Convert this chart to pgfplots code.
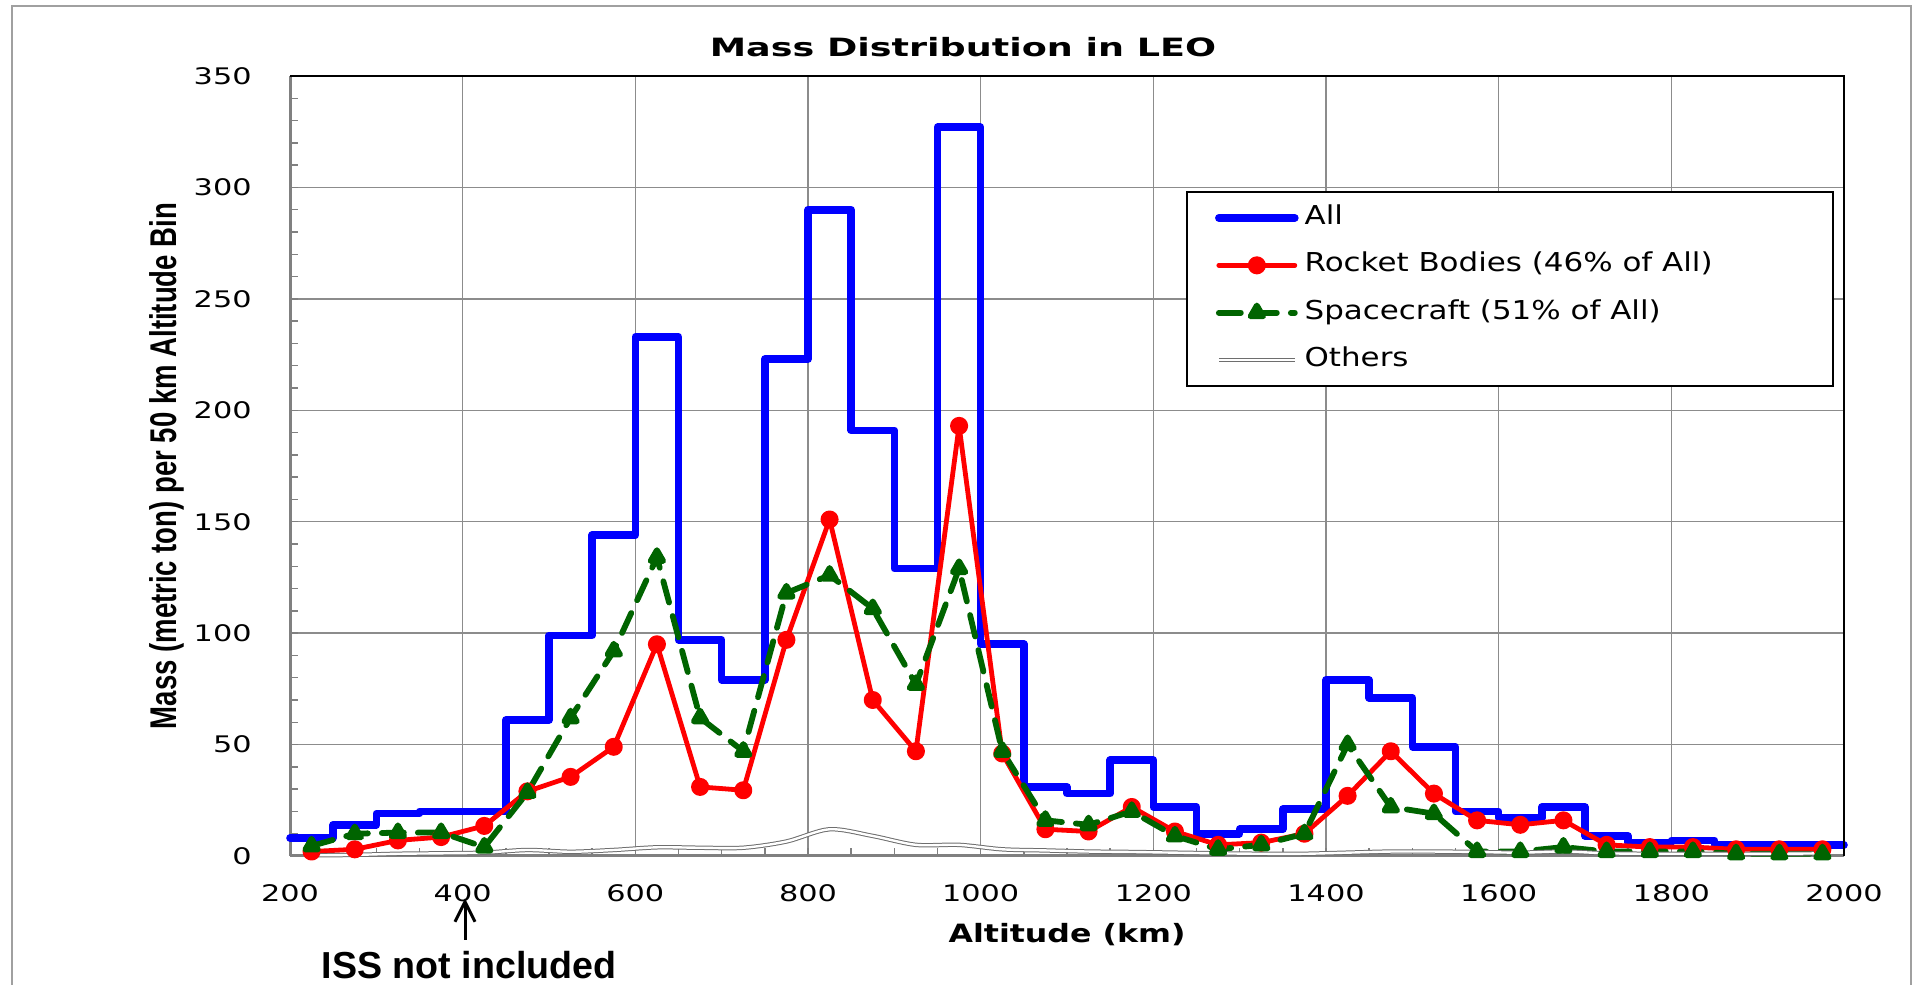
\documentclass[border=0pt]{standalone}
\usepackage{pgfplots}
\pgfplotsset{compat=1.18}
\usepackage{fontspec}
\setmainfont{DejaVu Sans}
\newfontfamily\lib{Liberation Sans}
\newcommand\sx[1]{\scalebox{1.33}[1]{#1}}
\newcommand\lgd[1]{\scalebox{1.19}[1]{#1}}
\definecolor{sgreen}{RGB}{0,100,0}
\definecolor{gridc}{RGB}{140,140,140}
\definecolor{axc}{RGB}{128,128,128}
\definecolor{frame}{RGB}{160,160,160}
\definecolor{othc}{RGB}{110,110,110}
\begin{document}
\begin{tikzpicture}[x=1pt,y=1pt]
\useasboundingbox (0,0) rectangle (958.5,492.5);
\draw[frame, line width=1pt] (6,-2) -- (6,489.5) -- (955.5,489.5) -- (955.5,-2);
\begin{axis}[
  at={(145pt,64.5pt)}, anchor=south west, scale only axis,
  width=777pt, height=390pt,
  xmin=200, xmax=2000, ymin=0, ymax=350,
  xtick={200,400,...,2000}, ytick={0,50,...,350},
  xticklabels={\sx{200},\sx{400},\sx{600},\sx{800},\sx{1000},\sx{1200},\sx{1400},\sx{1600},\sx{1800},\sx{2000}},
  yticklabels={\sx{0},\sx{50},\sx{100},\sx{150},\sx{200},\sx{250},\sx{300},\sx{350}},
  minor x tick num=3, minor y tick num=4,
  tick align=inside,
  grid=major, major grid style={gridc, line width=0.75pt},
  axis x line*=bottom, axis y line*=left,
  axis line style={axc, line width=1.5pt},
  tick style={axc, line width=0.75pt},
  major tick length=4pt, minor tick length=4pt,
  ticklabel style={font=\fontsize{11.4}{13}\selectfont, inner sep=0pt},
  xticklabel shift=14pt, yticklabel shift=19pt,
  clip=false,
  legend style={at={(0.5766,0.852)}, anchor=north west, draw=black, line width=1pt, fill=white,
    inner xsep=14pt, inner ysep=6.5pt, row sep=11.2pt, column sep=3pt,
    nodes={inner sep=0pt, text height=9.5pt, text depth=3pt},
    font=\fontsize{13}{15}\selectfont, cells={anchor=west}},
  legend image code/.code={\draw[mark repeat=2,mark phase=2,#1] plot coordinates {(0pt,0pt) (19pt,0pt) (38pt,0pt)};},
]
\addplot[blue, line width=3.8pt, line join=round, line cap=round, const plot,
  legend image code/.code={\draw[blue, line width=3.8pt, line cap=round] (0pt,0pt) -- (38pt,0pt);}]
coordinates {(200,8)(250,14)(300,19)(350,20)(400,20)(450,61)(500,99)(550,144)(600,233)(650,97)(700,79)(750,223)(800,290)(850,191)(900,129)(950,327)(1000,95)(1050,31)(1100,28)(1150,43)(1200,22)(1250,10)(1300,12)(1350,21)(1400,79)(1450,71)(1500,49)(1550,20)(1600,17)(1650,22)(1700,9)(1750,6)(1800,7)(1850,5)(1900,5)(1950,5)(2000,5)};
\addlegendentry{\makebox[250pt][l]{\lgd{All}}}
\addplot[red, line width=2.4pt, line cap=round, line join=round, mark=*, mark size=3.3pt, mark options={solid}]
coordinates {(225,2)(275,3)(325,7)(375,8.5)(425,13.5)(475,29)(525,35.5)(575,49)(625,95)(675,31)(725,29.5)(775,97)(825,151)(875,70)(925,47)(975,193)(1025,46)(1075,12)(1125,11)(1175,22)(1225,11)(1275,5)(1325,6)(1375,10)(1425,27)(1475,47)(1525,28)(1575,16)(1625,14)(1675,16)(1725,5)(1775,4)(1825,4)(1875,3)(1925,3)(1975,3)};
\addlegendentry{\lgd{Rocket Bodies (46\% of All)}}
\addplot[sgreen, line width=2.9pt, dash pattern=on 11pt off 7pt, line cap=round, line join=round, mark=triangle*, mark size=3.6pt, mark options={solid}]
coordinates {(225,4.5)(275,10)(325,10.5)(375,10.5)(425,4)(475,28.5)(525,62)(575,92)(625,134)(675,62)(725,47)(775,118)(825,126)(875,111)(925,77)(975,129)(1025,47)(1075,16)(1125,14)(1175,20)(1225,9)(1275,3)(1325,5)(1375,10)(1425,50)(1475,22)(1525,19)(1575,2)(1625,2)(1675,4)(1725,2)(1775,2)(1825,2)(1875,1)(1925,1)(1975,1)};
\addlegendentry{\lgd{Spacecraft (51\% of All)}}
\addplot[othc, line width=0.5pt, double=white, double distance=1.2pt, smooth]
coordinates {(225,0.3)(275,0.5)(325,1)(375,1.2)(425,1.5)(475,2.7)(525,1.9)(575,2.7)(625,3.9)(675,3.7)(725,3.7)(775,6.5)(825,12)(875,9)(925,5)(975,5)(1025,3)(1075,2.5)(1125,2)(1175,1.8)(1225,1.5)(1275,1.2)(1325,1)(1375,1)(1425,1.5)(1475,2)(1525,2)(1575,1.8)(1625,1.5)(1675,2)(1725,1.2)(1775,1)(1825,1)(1875,1)(1925,1)(1975,1.2)};
\addlegendentry{\lgd{Others}}
\draw[black, line width=0.6pt] (rel axis cs:0,1) -- (rel axis cs:1,1) -- (rel axis cs:1,0);
\end{axis}
\node[anchor=base, font=\fontsize{12.6}{15}\selectfont\bfseries] at (481.5,464.2) {\scalebox{1.45}[1]{Mass Distribution in LEO}};
\node[anchor=base, font=\fontsize{12.6}{15}\selectfont\bfseries] at (533.5,21) {\scalebox{1.255}[1]{Altitude (km)}};
\node[rotate=90, anchor=base, font=\lib\fontsize{18.6}{20}\selectfont\bfseries] at (88,259.5) {\scalebox{0.74}[1]{Mass (metric ton) per 50 km Altitude Bin}};
\node[anchor=base, font=\lib\fontsize{18.8}{22}\selectfont\bfseries, inner sep=0pt] at (234.5,3) {ISS not included};
\draw[line width=1.5pt] (232.5,22.5) -- (232.5,41.5);
\draw[line width=1.5pt, line join=miter] (227.5,31.6) -- (232.5,41.6) -- (237.5,31.6);
\end{tikzpicture}
\end{document}
